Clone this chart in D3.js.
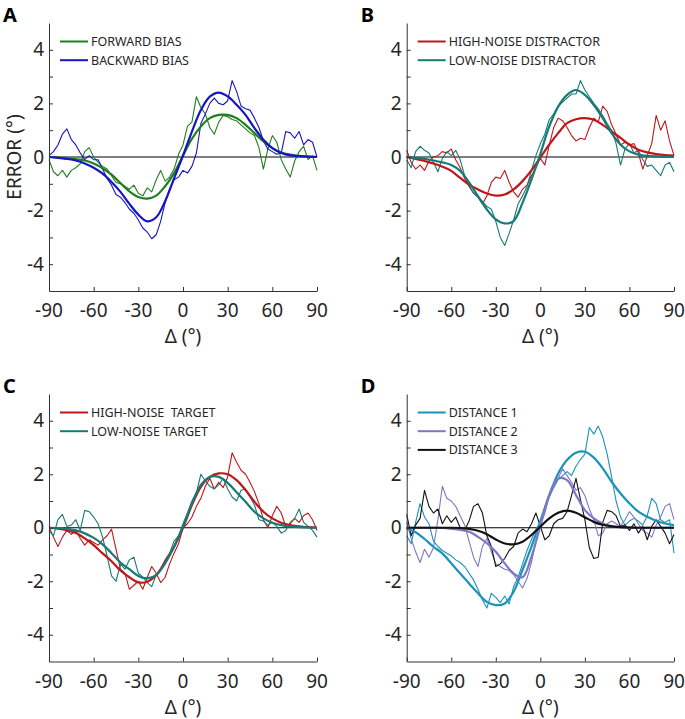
<!DOCTYPE html>
<html>
<head>
<meta charset="utf-8">
<script src="https://cdn.jsdelivr.net/npm/d3@7/dist/d3.min.js"></script>
<style>
  body { margin: 0; background: #fff; }
  svg { display: block; font-family: "Noto Sans", "Open Sans", sans-serif; }
  .tick-label { font-size: 19px; fill: #262626; }
  .legend-text { font-size: 12.5px; fill: #262626; white-space: pre; }
</style>
</head>
<body>
<svg id="chart" width="685" height="719"></svg>
<script>
"use strict";

// x samples of the raw (noisy) curves and of the fitted curves
const noisyDeg = [-90,-87,-84,-81,-78,-75,-72,-69,-66,-63,-60,-57,-54,-51,-48,-45,-42,-39,-36,-33,-30,-27,-24,-21,-18,-15,-12,-9,-6,-3,
  0,3,6,9,12,15,18,21,24,27,30,33,36,39,42,45,48,51,54,57,60,63,66,69,72,75,78,81,84,87,90];
const fitDeg = [-90,-84,-78,-72,-66,-60,-54,-48,-42,-36,-30,-24,-18,-12,-6,0,6,12,18,24,30,36,42,48,54,60,66,72,78,84,90];

const xTicks = [-90, -60, -30, 0, 30, 60, 90];
const yTicks = [-4, -3, -2, -1, 0, 1, 2, 3, 4];
const yTickLabels = [-4, -2, 0, 2, 4];

// panel A
const forwardRaw = [-0.1,-0.55,-0.7,-0.5,-0.75,-0.5,-0.4,-0.25,0.2,0.35,0.0,-0.2,-0.35,-0.45,-0.7,-0.95,-1.0,-1.1,-1.2,-1.05,-1.35,-1.45,-1.15,-1.3,-0.85,-0.5,-0.9,-0.75,-0.45,0.1,
  0.45,1.15,1.3,2.25,1.85,1.6,1.1,0.85,1.3,1.55,1.5,1.4,1.35,1.2,1.05,0.9,0.8,0.35,-0.45,0.3,0.8,0.55,-0.1,-0.45,-0.75,-0.15,0.2,0.4,-0.1,0.05,-0.5];
const backwardRaw = [0.05,0.2,0.45,0.85,1.05,0.65,0.45,0.15,-0.1,0.05,-0.1,-0.1,-0.45,-0.8,-1.05,-1.4,-1.5,-1.7,-1.95,-2.1,-2.35,-2.65,-2.8,-3.05,-2.9,-2.4,-1.7,-1.2,-0.85,-0.75,
  -0.5,-0.6,-0.35,0.15,1.25,1.6,2.0,2.2,2.0,1.95,2.1,2.85,2.45,1.9,1.8,1.75,1.45,1.1,0.6,0.3,0.2,0.1,0.15,0.95,0.9,0.7,0.95,0.45,0.65,0.55,0.0];
const forwardFit = [0,-0.02,-0.05,-0.08,-0.13,-0.24,-0.42,-0.66,-0.97,-1.28,-1.49,-1.55,-1.44,-1.09,-0.6,0.05,0.68,1.14,1.45,1.57,1.57,1.45,1.2,0.89,0.58,0.33,0.17,0.09,0.04,0.02,0.01];
const backwardFit = [0,-0.03,-0.07,-0.13,-0.24,-0.4,-0.62,-0.93,-1.3,-1.75,-2.15,-2.4,-2.25,-1.65,-0.8,0.05,0.95,1.75,2.25,2.4,2.26,1.95,1.57,1.08,0.64,0.33,0.15,0.06,0.03,0.01,0];

// panel B
const highDistRaw = [0.25,-0.2,-0.45,-0.3,-0.5,-0.15,0.0,0.05,0.2,0.15,0.3,-0.1,-0.4,-0.8,-1.1,-1.35,-1.5,-1.75,-1.45,-0.95,-0.75,-0.8,-0.5,-0.95,-1.3,-1.5,-1.2,-1.05,-0.7,-0.4,
  -0.05,-0.3,0.45,1.1,1.45,1.35,1.1,0.8,0.6,0.7,0.65,1.1,1.45,1.3,1.9,1.7,1.2,0.85,0.45,0.55,0.45,0.5,0.15,-0.45,0.05,0.5,1.55,1.0,1.35,0.6,0.05];
const lowDistRaw = [-0.1,-0.4,0.2,0.4,0.25,0.15,-0.2,-0.55,-0.05,0.2,0.05,0.25,-0.1,-0.7,-1.05,-1.35,-1.5,-1.65,-1.85,-1.95,-2.4,-3.0,-3.3,-2.85,-2.35,-1.75,-1.45,-1.1,-0.5,0.05,
  0.5,0.85,1.4,1.6,1.9,2.05,2.2,2.35,2.35,2.85,2.5,2.25,2.0,1.8,1.55,1.25,1.0,0.5,-0.3,0.3,0.5,0.15,0.25,-0.1,-0.35,-0.3,-0.5,-0.7,-0.3,-0.2,-0.55];
const highDistFit = [0,-0.07,-0.15,-0.24,-0.36,-0.52,-0.78,-1.03,-1.21,-1.36,-1.44,-1.4,-1.21,-0.9,-0.5,-0.02,0.46,0.89,1.26,1.41,1.45,1.39,1.2,0.95,0.71,0.46,0.27,0.17,0.11,0.07,0.05];
const lowDistFit = [0,-0.03,-0.07,-0.13,-0.2,-0.3,-0.52,-0.95,-1.46,-1.96,-2.33,-2.48,-2.39,-1.71,-0.84,0.12,1.14,1.88,2.32,2.5,2.32,1.94,1.45,0.89,0.46,0.21,0.09,0.04,0.02,0.01,0];

// panel C
const highTargRaw = [0.05,-0.35,-0.7,-0.35,-0.1,-0.25,-0.1,-0.4,-0.65,-0.45,-0.55,-0.65,-0.45,-0.3,-0.05,-0.8,-1.55,-1.7,-2.3,-2.15,-2.0,-2.3,-1.85,-1.45,-1.7,-2.05,-1.85,-1.35,-0.95,-0.6,
  0.0,0.15,0.4,0.8,1.1,1.55,1.85,1.45,1.7,1.5,1.9,2.8,2.45,2.15,2.0,1.7,1.35,0.9,0.3,0.0,0.45,0.8,0.55,0.05,0.15,0.35,0.2,0.45,0.55,0.3,-0.1];
const lowTargRaw = [-0.1,-0.3,0.3,0.5,0.05,0.1,0.3,-0.1,0.65,0.6,0.4,0.15,-0.35,-1.05,-1.8,-2.0,-1.35,-1.55,-1.2,-1.1,-1.7,-1.85,-2.05,-2.2,-1.75,-1.55,-1.2,-0.95,-0.5,-0.3,
  0.15,0.55,1.0,1.3,2.0,1.75,1.55,1.45,1.6,1.85,1.45,1.15,1.0,1.4,1.45,1.15,0.85,0.3,0.25,0.1,0.2,0.05,-0.2,-0.1,0.2,0.35,0.7,0.2,0.05,-0.1,-0.35];
const highTargFit = [0,-0.03,-0.09,-0.2,-0.4,-0.65,-0.96,-1.25,-1.6,-1.85,-2.04,-2.02,-1.77,-1.27,-0.71,0.0,0.85,1.53,1.9,2.03,2.0,1.78,1.41,0.97,0.6,0.35,0.19,0.1,0.05,0.02,0.01];
const lowTargFit = [0,-0.01,-0.04,-0.1,-0.21,-0.38,-0.62,-0.95,-1.3,-1.55,-1.8,-1.89,-1.77,-1.33,-0.71,0.04,0.91,1.6,1.9,1.9,1.68,1.33,0.97,0.6,0.35,0.19,0.1,0.05,0.02,0.01,0];

// panel D
const dist1Raw = [-0.3,-0.6,0.2,0.9,0.4,0.15,-0.5,-0.7,-0.85,-0.95,-1.05,-1.2,-1.3,-1.45,-1.7,-1.95,-2.3,-2.7,-3.0,-2.45,-2.6,-2.8,-2.55,-2.85,-2.2,-1.85,-1.35,-0.85,-0.45,-0.05,
  0.2,0.65,1.15,1.5,1.8,1.95,2.1,1.95,2.3,2.55,2.75,3.75,3.5,3.8,3.4,2.75,1.9,1.0,0.4,0.1,0.25,0.35,0.25,0.1,0.45,1.1,0.9,0.3,0.2,0.3,-0.95];
const dist2Raw = [0.2,-0.4,-0.9,-1.3,-0.8,-1.1,-0.75,0.3,1.55,1.1,1.0,0.8,0.45,0.1,-0.5,-1.1,-1.45,-0.7,-0.4,-0.9,-1.35,-1.45,-1.55,-1.6,-1.75,-2.0,-2.25,-1.9,-1.3,-0.5,
  0.1,0.55,1.2,1.55,1.85,2.2,1.95,1.7,1.4,1.5,1.2,0.7,0.3,-0.3,-0.2,0.15,0.25,0.15,0.05,0.3,0.6,0.4,0.15,-0.1,-0.2,-0.35,0.1,0.4,0.8,0.9,0.3];
const dist3Raw = [0.5,-0.3,0.1,0.35,1.4,0.8,0.55,0.7,0.15,0.45,0.2,0.4,0.0,-0.1,0.25,0.8,0.9,0.55,-0.3,-0.7,-1.45,-1.35,-1.15,-0.85,-0.7,-0.2,-0.05,-0.15,0.15,0.55,
  0.05,-0.45,-0.3,0.15,0.3,0.35,0.6,1.2,1.85,1.05,0.3,-0.75,-1.15,-1.1,0.2,0.65,0.6,0.45,0.05,0.1,-0.1,0.15,-0.2,0.05,-0.45,0.05,0.3,0.05,-0.2,-0.6,-0.25];
const dist1Fit = [-0.03,-0.17,-0.42,-0.71,-0.96,-1.33,-1.71,-2.08,-2.45,-2.77,-2.89,-2.83,-2.39,-1.58,-0.71,0.25,1.22,2.03,2.53,2.8,2.84,2.62,2.22,1.72,1.28,0.91,0.6,0.41,0.26,0.16,0.1];
const dist2Fit = [0,0,0,0,-0.01,-0.04,-0.08,-0.15,-0.34,-0.58,-0.9,-1.33,-1.71,-1.85,-1.08,0.07,1.22,1.84,1.78,1.22,0.66,0.35,0.16,0.06,0.02,0.01,0,0,0,0,0];
const dist3Fit = [0,0,0,0,0,0,-0.01,-0.04,-0.11,-0.24,-0.44,-0.59,-0.62,-0.52,-0.27,0.04,0.35,0.56,0.64,0.56,0.39,0.22,0.11,0.05,0.02,0.01,0,0,0,0,0];

const panels = [
  {label: "A", x0: 49, x1: 317, y0: 23, y1: 291, ylabel: true,
   series: [
     {name: "FORWARD BIAS", color: "#1f7f1f", raw: forwardRaw, fit: forwardFit},
     {name: "BACKWARD BIAS", color: "#1515c4", raw: backwardRaw, fit: backwardFit}]},
  {label: "B", x0: 406.7, x1: 674, y0: 23, y1: 291,
   series: [
     {name: "HIGH-NOISE DISTRACTOR", color: "#c0161a", raw: highDistRaw, fit: highDistFit},
     {name: "LOW-NOISE DISTRACTOR", color: "#167a76", raw: lowDistRaw, fit: lowDistFit}]},
  {label: "C", x0: 49, x1: 317, y0: 394, y1: 661.5,
   series: [
     {name: "HIGH-NOISE  TARGET", color: "#c0161a", raw: highTargRaw, fit: highTargFit},
     {name: "LOW-NOISE TARGET", color: "#167a76", raw: lowTargRaw, fit: lowTargFit}]},
  {label: "D", x0: 406.7, x1: 674, y0: 394, y1: 661.5,
   series: [
     {name: "DISTANCE 1", color: "#1b93b8", raw: dist1Raw, fit: dist1Fit},
     {name: "DISTANCE 2", color: "#7d78c4", raw: dist2Raw, fit: dist2Fit},
     {name: "DISTANCE 3", color: "#111111", raw: dist3Raw, fit: dist3Fit}]}
];

const svg = d3.select("#chart");

const draw_panel = function(p){
  const x = d3.scaleLinear().domain([-90, 90]).range([p.x0, p.x1]);
  const y = d3.scaleLinear().domain([-5, 5]).range([p.y1, p.y0]);
  const g = svg.append("g");

  // zero line
  g.append("line")
      .attr("x1", x(-90)).attr("x2", x(90))
      .attr("y1", y(0)).attr("y2", y(0))
      .style("stroke", "#000").style("stroke-width", 1);

  const rawLine = d3.line()
      .x((d, i) => x(noisyDeg[i]))
      .y(d => y(d));
  const fitLine = d3.line()
      .x((d, i) => x(fitDeg[i]))
      .y(d => y(d))
      .curve(d3.curveCatmullRom.alpha(0.5));

  p.series.forEach(s => {
    g.append("path")
        .attr("d", rawLine(s.raw))
        .style("fill", "none")
        .style("stroke", s.color)
        .style("stroke-width", 1.1)
        .style("stroke-linejoin", "round");
  });
  p.series.forEach(s => {
    g.append("path")
        .attr("d", fitLine(s.fit))
        .style("fill", "none")
        .style("stroke", s.color)
        .style("stroke-width", 2.2);
  });

  // axes (inward ticks, no box)
  const xAxis = d3.axisBottom(x).tickValues(xTicks).tickSizeInner(-4).tickSizeOuter(0).tickFormat("");
  const yAxis = d3.axisLeft(y).tickValues(yTicks).tickSizeInner(-4).tickSizeOuter(0).tickFormat("");
  const gx = g.append("g").attr("transform", `translate(0,${p.y1})`).call(xAxis);
  const gy = g.append("g").attr("transform", `translate(${p.x0},0)`).call(yAxis);
  [gx, gy].forEach(a => {
    a.selectAll("path, line").style("stroke", "#333").style("stroke-width", 1);
  });

  g.selectAll(".xlab")
      .data(xTicks)
      .enter().append("text")
      .attr("class", "tick-label")
      .attr("x", d => x(d))
      .attr("y", p.y1 + 26)
      .style("text-anchor", "middle")
      .text(d => d);

  g.selectAll(".ylab")
      .data(yTickLabels)
      .enter().append("text")
      .attr("class", "tick-label")
      .attr("x", p.x0 - 5)
      .attr("y", d => y(d))
      .attr("dy", "0.35em")
      .style("text-anchor", "end")
      .text(d => d);

  g.append("text")
      .attr("class", "tick-label")
      .attr("x", (p.x0 + p.x1) / 2)
      .attr("y", p.y1 + 52)
      .style("text-anchor", "middle")
      .text("\u0394 (\u00b0)");

  if (p.ylabel) {
    g.append("text")
        .attr("class", "tick-label")
        .attr("transform", `translate(21,${y(0)}) rotate(-90)`)
        .style("text-anchor", "middle")
        .text("ERROR (\u00b0)");
  }

  g.append("text")
      .attr("x", p.x0 - 46)
      .attr("y", p.y0 - 1)
      .style("font-size", "20px")
      .style("font-weight", "bold")
      .style("fill", "#000")
      .text(p.label);

  // legend
  const leg = g.selectAll(".leg")
      .data(p.series)
      .enter().append("g")
      .attr("transform", (d, i) => `translate(${p.x0 + 11},${p.y0 + 18.5 + i * 18.7})`);
  leg.append("line")
      .attr("x1", 0).attr("x2", 28)
      .style("stroke", d => d.color)
      .style("stroke-width", 2);
  leg.append("text")
      .attr("class", "legend-text")
      .attr("x", 31)
      .attr("dy", "0.35em")
      .text(d => d.name);
};

panels.forEach(draw_panel);
</script>
</body>
</html>
